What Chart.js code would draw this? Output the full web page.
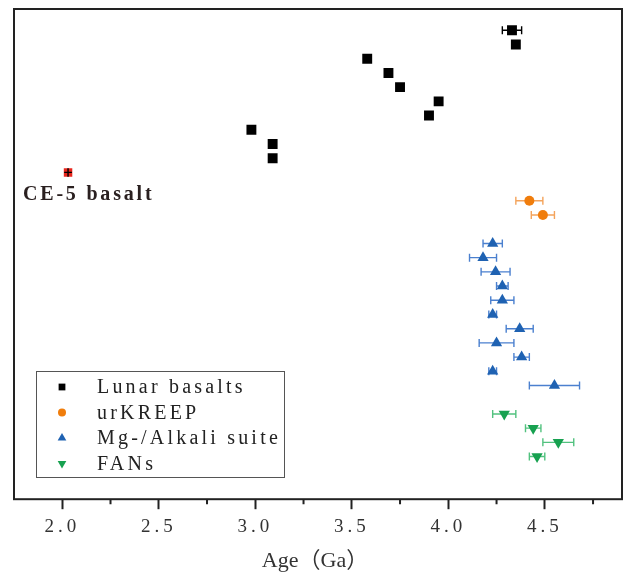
<!DOCTYPE html>
<html>
<head>
<meta charset="utf-8">
<script src="https://cdn.jsdelivr.net/npm/chart.js@4"></script>
<style>
  html, body { margin: 0; padding: 0; background: #fff; overflow: hidden; }
  #wrap { width: 623px; height: 573px; }
</style>
</head>
<body>
<div id="wrap"><canvas id="c"></canvas></div>
<script>
// ages (Ga), row positions (top to bottom) and +/- errors
const lunarAge = [4.33, 4.35, 3.58, 3.69, 3.75, 3.95, 3.90, 2.98, 3.09, 3.09];
const lunarRow = [1, 2, 3, 4, 5, 6, 7, 8, 9, 10];
const lunarErr = [0.05, 0, 0, 0, 0, 0, 0, 0, 0, 0];

const ce5Age = [2.03];
const ce5Row = [11];
const ce5Err = [0.02];

const kreepAge = [4.42, 4.49];
const kreepRow = [13, 14];
const kreepErr = [0.07, 0.06];

const mgAge = [4.23, 4.18, 4.245, 4.28, 4.28, 4.23, 4.37, 4.25, 4.38, 4.23, 4.55];
const mgRow = [16, 17, 18, 19, 20, 21, 22, 23, 24, 25, 26];
const mgErr = [0.05, 0.07, 0.075, 0.03, 0.06, 0.02, 0.07, 0.09, 0.04, 0.02, 0.13];

const fanAge = [4.29, 4.44, 4.57, 4.46];
const fanRow = [28, 29, 30, 31];
const fanErr = [0.06, 0.04, 0.08, 0.04];

const xTicks = [2.0, 2.5, 3.0, 3.5, 4.0, 4.5];
const xMinorTicks = [2.25, 2.75, 3.25, 3.75, 4.25, 4.75];

const SERIF = '"Liberation Serif", "DejaVu Serif", serif';

const pts = (xs, ys) => xs.map((x, i) => ({ x: x, y: ys[i] }));

function drawErr(chart, onTop) {
  const ctx = chart.ctx, xs = chart.scales.x, ys = chart.scales.y;
  chart.data.datasets.forEach(ds => {
    if (!ds.xErr || !!ds.errOnTop !== onTop) return;
    ctx.save();
    ctx.strokeStyle = ds.errColor;
    ctx.lineWidth = 1.4;
    ds.data.forEach((p, i) => {
      const e = ds.xErr[i];
      if (!e) return;
      const y = ys.getPixelForValue(p.y);
      const x1 = xs.getPixelForValue(p.x - e);
      const x2 = xs.getPixelForValue(p.x + e);
      const cap = ds.capSize || 0;
      ctx.beginPath();
      ctx.moveTo(x1, y); ctx.lineTo(x2, y);
      if (cap) {
        ctx.moveTo(x1, y - cap); ctx.lineTo(x1, y + cap);
        ctx.moveTo(x2, y - cap); ctx.lineTo(x2, y + cap);
      }
      if (ds.yErr) {
        const x = xs.getPixelForValue(p.x);
        ctx.moveTo(x, ys.getPixelForValue(p.y - ds.yErr[i]));
        ctx.lineTo(x, ys.getPixelForValue(p.y + ds.yErr[i]));
      }
      ctx.stroke();
    });
    ctx.restore();
  });
}

const errPlugin = {
  id: 'errbars',
  beforeDatasetsDraw(chart) { drawErr(chart, false); },
  afterDatasetsDraw(chart) { drawErr(chart, true); }
};

const framePlugin = {
  id: 'frame',
  beforeDraw(chart) {
    // wide spacing for the tick labels, like the original half-width font
    chart.ctx.letterSpacing = '4px';
  },
  afterDraw(chart) {
    const ctx = chart.ctx, a = chart.chartArea, xs = chart.scales.x;
    ctx.save();
    ctx.strokeStyle = '#222';
    ctx.lineWidth = 2;
    ctx.strokeRect(a.left, a.top, a.right - a.left, a.bottom - a.top);
    ctx.beginPath();
    xMinorTicks.forEach(v => {
      const x = xs.getPixelForValue(v);
      ctx.moveTo(x, a.bottom); ctx.lineTo(x, a.bottom + 5);
    });
    ctx.stroke();

    // axis title
    ctx.letterSpacing = '0px';
    ctx.fillStyle = '#333';
    ctx.font = '22px ' + SERIF + ', "Noto Sans CJK SC"';
    ctx.textAlign = 'center';
    ctx.textBaseline = 'middle';
    ctx.fillText('Age（Ga）', 315, 561);

    // CE-5 label
    const ce = chart.data.datasets[1].data[0];
    ctx.textAlign = 'left';
    ctx.fillStyle = '#2a2020';
    ctx.letterSpacing = '2.8px';
    ctx.font = 'bold 20px ' + SERIF;
    ctx.fillText('CE-5 basalt', 23, chart.scales.y.getPixelForValue(ce.y) + 22);

    // legend box
    const bx = 36, by = 371, bw = 248, bh = 106;
    ctx.fillStyle = '#fff';
    ctx.fillRect(bx, by, bw, bh);
    ctx.strokeStyle = '#555';
    ctx.lineWidth = 1;
    ctx.strokeRect(bx + 0.5, by + 0.5, bw, bh);
    let row = 0;
    chart.data.datasets.forEach(ds => {
      if (ds.noLegend) return;
      const y = by + 16 + row * 25.5;
      ctx.fillStyle = ds.backgroundColor;
      Chart.helpers.drawPoint(ctx, {
        pointStyle: ds.pointStyle, rotation: ds.rotation || 0,
        radius: ds.legendRadius, borderWidth: 0
      }, 62, y);
      ctx.fillStyle = '#222';
      ctx.letterSpacing = '3.2px';
      ctx.font = '20px ' + SERIF;
      ctx.fillText(ds.label, 97, y + 1);
      row++;
    });
    ctx.restore();
  }
};

new Chart(document.getElementById('c'), {
  type: 'scatter',
  data: {
    datasets: [
      { label: 'Lunar basalts', data: pts(lunarAge, lunarRow), xErr: lunarErr,
        errColor: '#000', capSize: 4, pointStyle: 'rect', pointRadius: 7,
        backgroundColor: '#000', borderWidth: 0, legendRadius: 4.8 },
      { label: 'CE-5 basalt', data: pts(ce5Age, ce5Row), xErr: ce5Err, yErr: [0.3],
        errOnTop: true, errColor: '#000', noLegend: true, pointStyle: 'rect',
        pointRadius: 6, backgroundColor: '#e8261c', borderWidth: 0 },
      { label: 'urKREEP', data: pts(kreepAge, kreepRow), xErr: kreepErr,
        errColor: '#f4a45c', capSize: 4, pointStyle: 'circle', pointRadius: 5,
        backgroundColor: '#f07d0c', borderWidth: 0, legendRadius: 4 },
      { label: 'Mg-/Alkali suite', data: pts(mgAge, mgRow), xErr: mgErr,
        errColor: '#4b80cf', capSize: 4, pointStyle: 'triangle', pointRadius: 6.5,
        backgroundColor: '#1f62b2', borderWidth: 0, legendRadius: 5 },
      { label: 'FANs', data: pts(fanAge, fanRow), xErr: fanErr,
        errColor: '#52c27f', capSize: 4, pointStyle: 'triangle', rotation: 180,
        pointRotation: 180, pointRadius: 6.5, backgroundColor: '#17a150',
        borderWidth: 0, legendRadius: 5 }
    ]
  },
  options: {
    responsive: true,
    maintainAspectRatio: false,
    animation: false,
    layout: { autoPadding: false, padding: { left: 14, right: 1, top: 9, bottom: 29 } },
    plugins: { legend: { display: false }, tooltip: { enabled: false } },
    elements: { point: { hoverRadius: 7 } },
    scales: {
      x: {
        type: 'linear',
        min: 1.75,
        max: 4.9,
        afterBuildTicks: scale => { scale.ticks = xTicks.map(v => ({ value: v })); },
        afterFit: scale => { scale.paddingLeft = 0; scale.paddingRight = 0; },
        ticks: {
          callback: v => v.toFixed(1),
          color: '#333',
          font: { family: SERIF, size: 19 },
          padding: 6,
          maxRotation: 0
        },
        grid: {
          display: true, drawOnChartArea: false, drawTicks: true,
          tickLength: 10, tickColor: '#222', tickWidth: 2
        },
        border: { display: false },
        title: { display: false }
      },
      y: {
        display: false,
        min: -0.5,
        max: 34,
        reverse: true
      }
    }
  },
  plugins: [errPlugin, framePlugin]
});
</script>
</body>
</html>
